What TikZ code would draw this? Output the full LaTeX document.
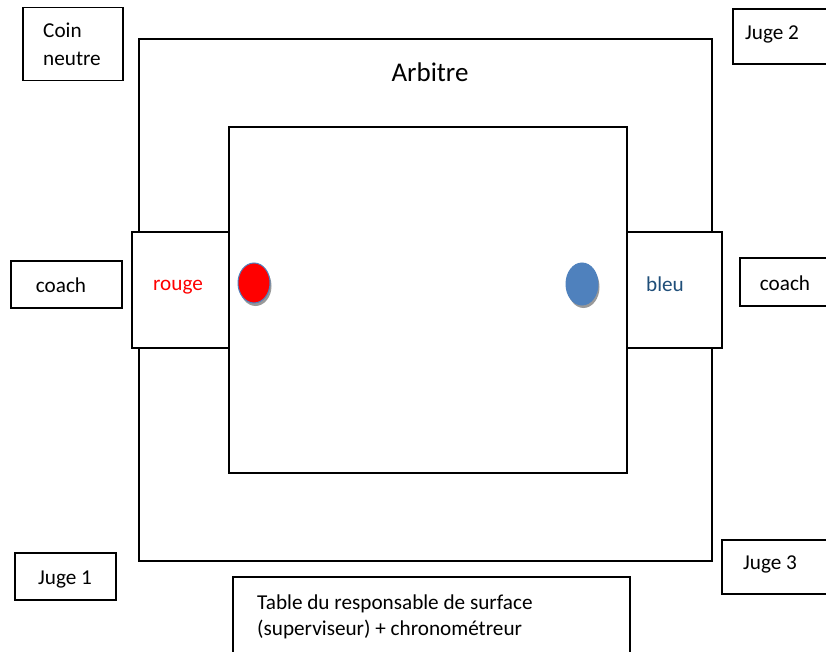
\documentclass[tikz,border=0pt]{standalone}
\usepackage{fontspec}
\setmainfont{Carlito}
\usetikzlibrary{shapes.geometric}
\begin{document}
\begin{tikzpicture}[x=1pt,y=-1pt,
  boxst/.style={draw=black,line width=1.6pt,fill=white,rectangle,inner sep=0pt},
  areast/.style={draw=black,line width=1.2pt},
  txt/.style={font=\fontsize{21.2}{27.5}\selectfont,inner sep=0pt},
  shad/.style={fill=black!40,draw=none}]
\useasboundingbox (0,0) rectangle (826,652);
\clip (0,0) rectangle (826,652);
% outer and inner areas
\draw[areast] (139,39) rectangle (712,561);
\draw[areast] (229,127) rectangle (627,473);
\node[txt,font=\fontsize{27}{30}\selectfont] (arb) at (430,72) {Arbitre};
% corner boxes
\node[boxst,minimum width=100pt,minimum height=73pt] (coin) at (73,44) {};
\node[txt,anchor=west,align=left] (cointxt) at (43,44.5) {Coin\\neutre};
\node[boxst,minimum width=100pt,minimum height=55pt] (j2) at (783,36.5) {};
\node[txt] (j2t) at (772,34) {Juge 2};
\node[boxst,minimum width=101pt,minimum height=47pt] (j1) at (65.5,576.5) {};
\node[txt] (j1t) at (65,579) {Juge 1};
\node[boxst,minimum width=110pt,minimum height=54pt] (j3) at (777,567) {};
\node[txt] (j3t) at (770,564) {Juge 3};
% coach boxes
\node[boxst,minimum width=111pt,minimum height=47pt] (c1) at (66.5,284.5) {};
\node[txt] (c1t) at (61,285) {coach};
\node[boxst,minimum width=100pt,minimum height=48pt] (c2) at (790,282) {};
\node[txt] (c2t) at (785,283) {coach};
% corner boxes of the fighters
\node[boxst,minimum width=97pt,minimum height=116pt] (rb) at (180.5,290) {};
\node[txt,text=red] (rt) at (178,287.5) {rouge};
\node[boxst,minimum width=95pt,minimum height=116pt] (bb) at (674.5,290) {};
\node[txt,text={rgb,255:red,31;green,78;blue,121}] (bt) at (665,284) {bleu};
% fighters
\fill[shad] (255.5,286) ellipse [x radius=16pt,y radius=20pt];
\node[ellipse,draw={rgb,255:red,79;green,129;blue,189},line width=1pt,fill=red,minimum width=32pt,minimum height=40pt,inner sep=0pt] (red) at (254,283) {};
\fill[shad] (583.5,287) ellipse [x radius=16pt,y radius=21pt];
\node[ellipse,draw={rgb,255:red,79;green,129;blue,189},line width=1pt,fill={rgb,255:red,79;green,129;blue,189},minimum width=32pt,minimum height=42pt,inner sep=0pt] (blue) at (582,284) {};
% table
\node[boxst,minimum width=397pt,minimum height=90pt] (tab) at (431.5,622) {};
\node[txt,anchor=north west,align=left,font=\fontsize{21.2}{26}\selectfont] (tabt) at (257,595) {Table du responsable de surface\\(superviseur) + chronométreur};
\end{tikzpicture}
\end{document}
